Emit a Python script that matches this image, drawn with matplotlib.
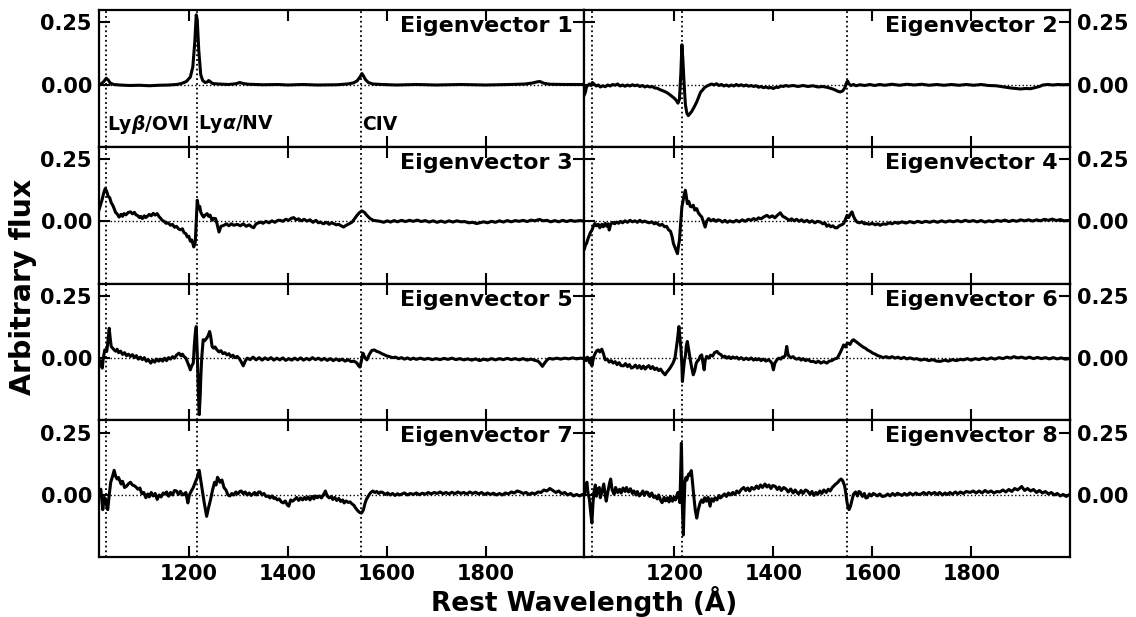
import matplotlib
matplotlib.use('Agg')
import matplotlib.pyplot as plt
from matplotlib.ticker import FormatStrFormatter

plt.rcParams['font.family'] = 'DejaVu Sans'
plt.rcParams['font.weight'] = 'bold'
plt.rcParams['mathtext.fontset'] = 'custom'
plt.rcParams['mathtext.it'] = 'DejaVu Sans:bold:italic'
plt.rcParams['mathtext.rm'] = 'DejaVu Sans:bold'

# emission lines marked in every panel (rest wavelength, Angstrom)
line_waves = [1033, 1216, 1549]
line_names = [r'Ly$\beta$/OVI', r'Ly$\alpha$/NV', 'CIV']

# eigenvector spectra, (wavelength, flux) pairs
spec1 = [(1018, 0.0), (1023, 0.003), (1028, 0.012), (1033, 0.025), (1037, 0.018), (1041, 0.006),
         (1048, 0.0), (1060, -0.002), (1080, -0.004), (1100, -0.003), (1120, -0.005), (1140, -0.003),
         (1160, -0.002), (1175, 0.0), (1185, 0.004), (1195, 0.012), (1203, 0.03), (1208, 0.07),
         (1212, 0.17), (1215, 0.28), (1217, 0.26), (1220, 0.14), (1224, 0.04), (1228, 0.016),
         (1233, 0.008), (1237, 0.01), (1240, 0.016), (1243, 0.012), (1248, 0.004), (1260, 0.002),
         (1280, 0.0), (1295, 0.003), (1303, 0.008), (1310, 0.004), (1320, 0.001), (1350, -0.001),
         (1380, 0.0), (1400, -0.002), (1430, 0.0), (1460, -0.002), (1500, -0.001), (1520, 0.002),
         (1532, 0.006), (1540, 0.014), (1546, 0.03), (1550, 0.044), (1553, 0.035), (1557, 0.02),
         (1563, 0.008), (1572, 0.002), (1590, 0.0), (1620, -0.002), (1660, 0.0), (1700, -0.002),
         (1750, 0.0), (1800, -0.002), (1850, 0.0), (1880, 0.002), (1895, 0.006), (1905, 0.011),
         (1910, 0.012), (1918, 0.005), (1930, 0.001), (1960, 0.0), (2000, 0.0)]

spec2 = [(1018, -0.04), (1020, -0.03), (1022, -0.01), (1025, -0.003), (1028, 0.002), (1031, -0.004),
         (1034, 0.008), (1038, 0.0), (1042, -0.006), (1046, -0.002), (1050, -0.01), (1055, -0.005),
         (1060, -0.009), (1065, -0.002), (1070, -0.006), (1075, 0.0), (1080, -0.003), (1085, 0.002),
         (1090, -0.006), (1095, -0.002), (1100, -0.007), (1105, -0.002), (1110, -0.006), (1115, -0.001),
         (1120, -0.005), (1125, -0.002), (1130, -0.008), (1135, -0.004), (1140, -0.01), (1145, -0.006),
         (1150, -0.01), (1155, -0.008), (1160, -0.014), (1165, -0.015), (1170, -0.02), (1175, -0.024),
         (1180, -0.028), (1185, -0.033), (1190, -0.04), (1195, -0.048), (1200, -0.056), (1204, -0.065),
         (1207, -0.075), (1210, -0.06), (1213, 0.05), (1215, 0.16), (1217, 0.1), (1219, 0.02),
         (1222, -0.08), (1225, -0.115), (1228, -0.125), (1231, -0.118), (1235, -0.108), (1240, -0.09),
         (1245, -0.07), (1249, -0.05), (1253, -0.03), (1257, -0.022), (1261, -0.012), (1266, -0.006),
         (1270, -0.002), (1275, 0.002), (1280, -0.002), (1285, 0.003), (1290, -0.004), (1295, 0.0),
         (1300, -0.006), (1305, -0.002), (1310, -0.007), (1315, -0.002), (1320, -0.006), (1325, 0.0),
         (1330, -0.005), (1335, -0.001), (1340, -0.006), (1345, -0.002), (1350, -0.007), (1355, -0.004),
         (1360, -0.008), (1365, -0.005), (1370, -0.011), (1375, -0.008), (1380, -0.013), (1385, -0.01),
         (1390, -0.014), (1395, -0.012), (1400, -0.016), (1405, -0.011), (1410, -0.012), (1415, -0.006),
         (1420, -0.008), (1425, -0.004), (1430, -0.007), (1440, -0.004), (1450, -0.008), (1460, -0.004),
         (1470, -0.008), (1480, -0.005), (1490, -0.01), (1500, -0.008), (1510, -0.012), (1515, -0.015),
         (1520, -0.018), (1525, -0.022), (1530, -0.027), (1535, -0.03), (1540, -0.026), (1544, -0.015),
         (1548, 0.008), (1550, 0.014), (1553, 0.002), (1557, -0.004), (1562, 0.0), (1567, -0.005),
         (1575, -0.001), (1585, -0.004), (1595, 0.0), (1605, -0.004), (1615, 0.0), (1625, -0.003),
         (1640, 0.001), (1655, -0.003), (1670, 0.001), (1685, -0.002), (1700, 0.001), (1715, -0.003),
         (1730, 0.0), (1745, -0.003), (1760, 0.0), (1775, -0.003), (1790, 0.0), (1805, -0.003),
         (1820, 0.0), (1835, -0.004), (1850, -0.005), (1860, -0.008), (1870, -0.011), (1880, -0.014),
         (1890, -0.016), (1900, -0.018), (1910, -0.016), (1920, -0.017), (1930, -0.012), (1938, -0.008),
         (1945, -0.002), (1955, 0.0), (1965, -0.002), (1975, 0.0), (1985, -0.001), (2000, 0.0)]

spec3 = [(1019, 0.05), (1022, 0.07), (1025, 0.09), (1028, 0.115), (1031, 0.132), (1034, 0.12),
         (1037, 0.1), (1040, 0.095), (1043, 0.075), (1046, 0.065), (1049, 0.051), (1052, 0.035),
         (1055, 0.03), (1059, 0.017), (1063, 0.028), (1066, 0.02), (1069, 0.031), (1073, 0.026),
         (1077, 0.035), (1082, 0.038), (1086, 0.03), (1090, 0.036), (1093, 0.026), (1096, 0.024),
         (1100, 0.015), (1103, 0.02), (1106, 0.011), (1110, 0.022), (1113, 0.015), (1116, 0.02),
         (1120, 0.028), (1124, 0.022), (1128, 0.032), (1132, 0.025), (1136, 0.031), (1140, 0.018),
         (1143, 0.012), (1146, 0.004), (1150, 0.0), (1154, -0.008), (1158, -0.006), (1163, -0.016),
         (1167, -0.012), (1171, -0.024), (1175, -0.02), (1179, -0.03), (1183, -0.034), (1187, -0.03),
         (1190, -0.045), (1194, -0.05), (1197, -0.063), (1200, -0.06), (1203, -0.08), (1206, -0.075),
         (1210, -0.103), (1213, -0.083), (1215, 0.0), (1217, 0.085), (1220, 0.05), (1222, 0.06),
         (1224, 0.038), (1227, 0.025), (1230, 0.017), (1233, 0.025), (1237, 0.031), (1240, 0.02),
         (1243, 0.025), (1247, 0.004), (1250, 0.012), (1254, 0.011), (1257, -0.01), (1261, -0.043),
         (1265, -0.02), (1271, -0.016), (1276, -0.01), (1281, -0.018), (1286, -0.01), (1291, -0.016),
         (1298, -0.012), (1304, -0.018), (1310, -0.01), (1316, -0.02), (1322, -0.014), (1327, -0.022),
         (1331, -0.026), (1336, -0.01), (1341, -0.006), (1345, -0.003), (1350, -0.008), (1356, 0.0),
         (1362, -0.006), (1368, 0.002), (1374, -0.004), (1380, 0.004), (1385, 0.004), (1390, 0.0),
         (1396, 0.008), (1402, 0.004), (1407, 0.012), (1412, 0.015), (1417, 0.006), (1422, 0.01),
         (1427, 0.002), (1433, 0.008), (1439, 0.001), (1445, 0.006), (1451, -0.004), (1457, 0.004),
         (1462, -0.006), (1466, -0.003), (1472, -0.01), (1478, -0.004), (1484, -0.012), (1488, -0.006),
         (1493, -0.009), (1498, -0.014), (1503, -0.012), (1508, -0.018), (1513, -0.023), (1518, -0.016),
         (1522, -0.012), (1526, -0.008), (1530, -0.003), (1535, 0.01), (1540, 0.024), (1545, 0.035),
         (1550, 0.042), (1555, 0.036), (1560, 0.024), (1566, 0.012), (1573, 0.004), (1580, 0.002),
         (1587, 0.0), (1594, -0.004), (1601, 0.002), (1608, -0.003), (1615, 0.003), (1622, -0.002),
         (1630, 0.004), (1638, -0.001), (1646, 0.004), (1654, 0.0), (1662, 0.005), (1670, -0.001),
         (1678, 0.003), (1686, -0.003), (1694, 0.002), (1702, -0.004), (1710, 0.001), (1718, -0.004),
         (1726, 0.002), (1734, -0.003), (1742, 0.002), (1750, -0.002), (1758, -0.001), (1766, -0.006),
         (1774, -0.004), (1782, -0.009), (1788, -0.006), (1796, -0.002), (1804, -0.006), (1812, 0.0),
         (1820, -0.004), (1828, 0.002), (1836, -0.003), (1844, 0.003), (1852, -0.002), (1860, 0.003),
         (1868, 0.0), (1876, 0.004), (1884, -0.001), (1892, 0.005), (1900, 0.002), (1909, 0.008),
         (1916, 0.002), (1924, 0.004), (1932, -0.002), (1940, 0.003), (1948, -0.002), (1956, 0.004),
         (1964, -0.001), (1972, 0.004), (1980, 0.0), (1990, 0.003), (2000, 0.001)]

spec4 = [(1018, -0.11), (1020, -0.095), (1022, -0.09), (1024, -0.077), (1027, -0.06), (1030, -0.045),
         (1033, -0.036), (1036, -0.02), (1039, -0.009), (1042, -0.018), (1046, -0.012), (1049, -0.026),
         (1053, -0.012), (1056, -0.022), (1060, -0.008), (1063, -0.02), (1066, -0.01), (1068, -0.035),
         (1071, -0.012), (1075, -0.004), (1079, -0.01), (1083, -0.003), (1087, -0.008), (1091, 0.0),
         (1095, -0.006), (1100, 0.002), (1105, -0.004), (1110, 0.004), (1115, -0.002), (1120, 0.002),
         (1125, -0.004), (1130, 0.004), (1135, -0.003), (1140, 0.001), (1144, -0.003), (1149, -0.006),
         (1154, -0.002), (1159, -0.01), (1164, -0.006), (1168, -0.014), (1171, -0.016), (1175, -0.012),
         (1180, -0.022), (1184, -0.02), (1188, -0.034), (1192, -0.04), (1195, -0.06), (1198, -0.09),
         (1202, -0.11), (1204, -0.12), (1206, -0.13), (1208, -0.1), (1210, -0.077), (1212, -0.02),
         (1215, 0.058), (1218, 0.09), (1220, 0.11), (1222, 0.125), (1224, 0.1), (1226, 0.071),
         (1229, 0.08), (1232, 0.06), (1235, 0.058), (1238, 0.065), (1241, 0.045), (1245, 0.051),
         (1248, 0.035), (1252, 0.024), (1255, 0.018), (1258, 0.0), (1262, -0.023), (1265, 0.0),
         (1269, 0.011), (1274, 0.002), (1279, 0.008), (1284, 0.0), (1288, 0.006), (1292, 0.004),
         (1297, -0.003), (1302, 0.004), (1307, -0.004), (1312, 0.002), (1319, -0.003), (1325, 0.004),
         (1331, -0.002), (1337, 0.006), (1343, 0.0), (1349, 0.008), (1355, 0.004), (1360, 0.011),
         (1365, 0.006), (1370, 0.014), (1375, 0.01), (1381, 0.018), (1387, 0.024), (1392, 0.016),
         (1398, 0.022), (1403, 0.014), (1409, 0.026), (1414, 0.034), (1419, 0.02), (1423, 0.016),
         (1427, 0.011), (1432, 0.004), (1437, 0.01), (1442, 0.002), (1447, 0.008), (1452, 0.0),
         (1457, 0.006), (1462, -0.002), (1468, 0.004), (1473, -0.004), (1478, 0.002), (1484, -0.006),
         (1489, 0.0), (1495, -0.003), (1500, -0.01), (1504, -0.006), (1508, -0.02), (1512, -0.014),
         (1516, -0.022), (1520, -0.018), (1525, -0.026), (1529, -0.026), (1533, -0.018), (1538, -0.014),
         (1542, -0.009), (1546, 0.01), (1549, 0.024), (1552, 0.015), (1556, 0.03), (1559, 0.038),
         (1562, 0.02), (1565, 0.008), (1569, -0.003), (1574, -0.006), (1579, -0.002), (1584, -0.01),
         (1589, -0.009), (1594, -0.012), (1600, -0.008), (1606, -0.014), (1611, -0.01), (1616, -0.016),
         (1622, -0.01), (1628, -0.012), (1634, -0.006), (1640, -0.01), (1646, -0.004), (1652, -0.008),
         (1660, -0.002), (1668, -0.007), (1676, -0.001), (1684, -0.006), (1692, 0.0), (1700, -0.005),
         (1708, 0.0), (1716, -0.004), (1724, 0.001), (1732, -0.004), (1740, 0.002), (1748, -0.003),
         (1756, 0.002), (1764, -0.002), (1772, 0.003), (1780, -0.002), (1788, 0.004), (1796, -0.001),
         (1804, 0.003), (1812, -0.002), (1820, 0.003), (1828, -0.003), (1836, 0.002), (1844, -0.002),
         (1852, 0.004), (1860, 0.0), (1868, 0.005), (1876, -0.001), (1884, 0.004), (1892, 0.0),
         (1900, 0.006), (1908, 0.002), (1916, 0.006), (1924, 0.001), (1932, 0.006), (1940, 0.002),
         (1948, 0.008), (1956, 0.004), (1964, 0.009), (1972, 0.003), (1980, 0.007), (1988, 0.002),
         (2000, 0.004)]

spec5 = [(1018, -0.02), (1021, -0.01), (1023, -0.03), (1025, -0.04), (1027, 0.0), (1030, 0.033),
         (1034, 0.027), (1036, 0.06), (1039, 0.12), (1041, 0.08), (1043, 0.047), (1046, 0.04),
         (1049, 0.033), (1052, 0.028), (1055, 0.036), (1058, 0.022), (1062, 0.028), (1066, 0.015),
         (1070, 0.022), (1074, 0.01), (1078, 0.016), (1082, 0.007), (1086, 0.014), (1090, 0.002),
         (1094, 0.01), (1098, -0.004), (1102, 0.004), (1106, -0.006), (1110, 0.002), (1114, -0.012),
         (1118, -0.006), (1123, -0.02), (1127, -0.008), (1131, -0.016), (1135, -0.004), (1139, -0.012),
         (1143, -0.004), (1147, -0.012), (1151, 0.0), (1155, -0.01), (1159, 0.002), (1163, -0.004),
         (1167, 0.006), (1171, 0.0), (1175, 0.012), (1180, 0.02), (1184, 0.01), (1187, 0.016),
         (1190, 0.007), (1194, 0.0), (1198, -0.02), (1201, -0.035), (1203, -0.047), (1206, -0.03),
         (1209, -0.02), (1211, 0.05), (1213, 0.1), (1215, 0.127), (1217, 0.02), (1219, -0.12),
         (1221, -0.227), (1223, -0.15), (1224, -0.087), (1226, 0.0), (1229, 0.074), (1232, 0.07),
         (1236, 0.08), (1239, 0.09), (1242, 0.107), (1244, 0.09), (1247, 0.047), (1250, 0.04),
         (1253, 0.045), (1257, 0.033), (1261, 0.025), (1265, 0.03), (1269, 0.018), (1273, 0.022),
         (1277, 0.013), (1281, 0.018), (1285, 0.006), (1289, 0.012), (1293, 0.002), (1298, 0.007),
         (1302, -0.002), (1306, -0.015), (1310, -0.031), (1314, -0.012), (1318, 0.0), (1324, -0.006),
         (1330, 0.004), (1336, -0.007), (1342, 0.002), (1348, -0.008), (1354, 0.001), (1360, -0.006),
         (1366, 0.002), (1372, -0.008), (1378, 0.0), (1384, -0.007), (1390, 0.001), (1396, -0.009),
         (1402, -0.002), (1408, -0.008), (1414, 0.0), (1420, -0.007), (1426, 0.001), (1432, -0.008),
         (1438, -0.001), (1444, -0.007), (1450, 0.002), (1456, -0.006), (1462, 0.0), (1468, -0.008),
         (1474, -0.001), (1480, -0.009), (1486, -0.002), (1492, -0.01), (1498, -0.003), (1504, -0.01),
         (1510, -0.004), (1516, -0.012), (1522, -0.006), (1528, -0.014), (1534, -0.012), (1540, -0.02),
         (1543, -0.03), (1546, -0.036), (1549, -0.01), (1552, 0.02), (1556, 0.002), (1560, -0.007),
         (1565, 0.015), (1570, 0.031), (1575, 0.033), (1580, 0.027), (1585, 0.024), (1590, 0.018),
         (1595, 0.014), (1600, 0.009), (1606, 0.006), (1612, 0.002), (1618, 0.004), (1624, -0.002),
         (1630, 0.002), (1636, -0.004), (1642, 0.001), (1648, -0.005), (1654, 0.0), (1660, -0.005),
         (1668, 0.0), (1676, -0.005), (1684, -0.001), (1692, -0.006), (1700, -0.002), (1708, -0.006),
         (1716, -0.001), (1724, -0.005), (1732, 0.0), (1740, -0.006), (1748, -0.002), (1756, -0.007),
         (1764, -0.003), (1772, -0.008), (1780, -0.003), (1788, -0.01), (1796, -0.004), (1804, -0.008),
         (1812, -0.002), (1820, -0.007), (1828, -0.002), (1836, -0.006), (1844, -0.001), (1852, -0.006),
         (1860, -0.002), (1868, -0.007), (1876, -0.002), (1884, -0.008), (1892, -0.004), (1900, -0.009),
         (1906, -0.012), (1910, -0.02), (1915, -0.033), (1920, -0.018), (1925, -0.006), (1929, -0.001),
         (1936, -0.004), (1944, 0.0), (1952, -0.004), (1960, 0.0), (1968, -0.003), (1976, 0.001),
         (1984, -0.003), (1992, 0.0), (2000, -0.002)]

spec6 = [(1018, 0.0), (1021, -0.01), (1024, 0.004), (1026, -0.007), (1029, -0.02), (1031, 0.0),
         (1033, -0.031), (1035, -0.01), (1037, 0.007), (1040, 0.02), (1043, 0.03), (1046, 0.033),
         (1049, 0.025), (1053, 0.036), (1056, 0.02), (1060, -0.007), (1064, -0.004), (1068, -0.016),
         (1072, -0.01), (1076, -0.02), (1080, -0.014), (1084, -0.026), (1088, -0.018), (1092, -0.03),
         (1097, -0.031), (1101, -0.022), (1105, -0.034), (1109, -0.026), (1113, -0.04), (1117, -0.036),
         (1121, -0.028), (1125, -0.04), (1129, -0.03), (1133, -0.042), (1137, -0.032), (1141, -0.044),
         (1144, -0.036), (1148, -0.03), (1152, -0.042), (1156, -0.034), (1160, -0.046), (1164, -0.04),
         (1168, -0.05), (1172, -0.044), (1176, -0.056), (1181, -0.067), (1185, -0.055), (1188, -0.048),
         (1191, -0.04), (1194, -0.03), (1197, -0.02), (1201, 0.0), (1203, 0.03), (1206, 0.074),
         (1208, 0.11), (1209, 0.127), (1211, 0.08), (1213, 0.04), (1215, -0.03), (1216, -0.094),
         (1218, -0.05), (1220, -0.01), (1222, 0.007), (1224, 0.05), (1226, 0.067), (1229, 0.03),
         (1232, -0.007), (1235, -0.04), (1238, -0.067), (1241, -0.05), (1244, -0.02), (1247, -0.01),
         (1249, -0.007), (1252, 0.008), (1255, 0.013), (1257, -0.01), (1260, -0.047), (1262, -0.01),
         (1265, 0.007), (1269, 0.0), (1273, 0.012), (1277, 0.008), (1281, 0.022), (1286, 0.027),
         (1290, 0.018), (1294, 0.014), (1298, 0.004), (1302, 0.008), (1306, 0.0), (1310, 0.006),
         (1314, -0.002), (1318, 0.005), (1322, 0.0), (1326, 0.004), (1330, -0.004), (1335, 0.002),
         (1340, -0.006), (1345, 0.0), (1350, -0.006), (1355, 0.001), (1360, -0.008), (1364, -0.002),
         (1367, -0.007), (1371, -0.002), (1375, -0.01), (1380, -0.004), (1385, -0.012), (1390, -0.006),
         (1394, -0.013), (1397, -0.02), (1400, -0.047), (1403, -0.02), (1407, -0.007), (1411, 0.0),
         (1415, -0.004), (1418, 0.004), (1421, 0.004), (1424, 0.01), (1427, 0.047), (1429, 0.02),
         (1431, 0.009), (1435, 0.002), (1440, 0.006), (1444, -0.002), (1448, -0.004), (1452, 0.0),
         (1456, -0.008), (1460, -0.002), (1465, -0.01), (1470, -0.006), (1476, -0.014), (1481, -0.013),
         (1486, -0.018), (1491, -0.012), (1496, -0.02), (1502, -0.014), (1508, -0.02), (1513, -0.012),
         (1518, -0.01), (1523, -0.004), (1529, 0.0), (1533, 0.014), (1537, 0.03), (1542, 0.053),
         (1546, 0.045), (1549, 0.06), (1552, 0.06), (1555, 0.055), (1559, 0.07), (1562, 0.074),
         (1566, 0.068), (1570, 0.062), (1576, 0.053), (1581, 0.045), (1586, 0.04), (1591, 0.032),
         (1596, 0.027), (1601, 0.02), (1606, 0.016), (1611, 0.01), (1616, 0.007), (1622, 0.002),
         (1628, 0.006), (1634, 0.001), (1640, 0.006), (1646, 0.0), (1652, 0.004), (1658, -0.002),
         (1664, 0.003), (1670, -0.003), (1676, 0.001), (1684, -0.004), (1690, -0.002), (1698, -0.008),
         (1706, -0.004), (1714, -0.01), (1722, -0.006), (1730, -0.012), (1738, -0.013), (1746, -0.008),
         (1754, -0.012), (1762, -0.006), (1770, -0.01), (1778, -0.005), (1785, -0.007), (1792, -0.002),
         (1800, -0.008), (1808, -0.002), (1816, -0.006), (1824, 0.0), (1832, -0.005), (1840, 0.001),
         (1848, -0.004), (1856, 0.002), (1864, -0.002), (1872, 0.004), (1880, 0.0), (1886, 0.006),
         (1894, 0.001), (1902, 0.004), (1910, -0.001), (1918, 0.004), (1926, -0.002), (1934, 0.003),
         (1942, -0.002), (1950, 0.002), (1958, -0.003), (1966, 0.002), (1974, -0.003), (1982, 0.001),
         (1990, -0.004), (2000, -0.002)]

spec7 = [(1018, 0.01), (1022, 0.023), (1026, -0.059), (1029, -0.01), (1032, -0.018), (1034, -0.045),
         (1036, -0.059), (1039, 0.0), (1042, 0.051), (1045, 0.07), (1049, 0.099), (1052, 0.075),
         (1055, 0.064), (1058, 0.07), (1063, 0.044), (1066, 0.055), (1070, 0.03), (1074, 0.035),
         (1078, 0.045), (1082, 0.051), (1086, 0.04), (1090, 0.037), (1094, 0.03), (1097, 0.023),
         (1101, 0.028), (1105, 0.005), (1109, 0.01), (1113, -0.011), (1117, 0.004), (1120, -0.008),
         (1124, 0.01), (1128, -0.004), (1132, 0.006), (1136, -0.018), (1140, 0.0), (1144, -0.008),
         (1148, 0.008), (1151, 0.003), (1155, 0.012), (1159, -0.005), (1163, 0.01), (1167, 0.0),
         (1171, 0.018), (1175, 0.016), (1179, 0.002), (1183, 0.015), (1187, 0.0), (1190, 0.003),
         (1194, 0.01), (1198, -0.032), (1201, 0.0), (1205, 0.016), (1209, 0.03), (1213, 0.051),
         (1217, 0.07), (1221, 0.099), (1224, 0.06), (1227, 0.023), (1231, -0.03), (1236, -0.086),
         (1240, -0.05), (1244, -0.018), (1248, 0.02), (1252, 0.051), (1255, 0.04), (1258, 0.071),
         (1261, 0.06), (1263, 0.051), (1267, 0.06), (1271, 0.03), (1275, 0.02), (1279, 0.0),
         (1283, -0.004), (1287, 0.006), (1291, 0.0), (1295, 0.012), (1299, 0.004), (1303, 0.014),
         (1306, 0.016), (1310, 0.005), (1314, 0.012), (1318, 0.0), (1322, 0.008), (1326, -0.002),
         (1329, 0.003), (1333, 0.01), (1337, 0.0), (1341, 0.012), (1344, 0.012), (1348, 0.0),
         (1352, 0.006), (1356, -0.006), (1360, -0.004), (1364, -0.012), (1368, -0.004), (1372, -0.014),
         (1375, -0.011), (1379, -0.02), (1383, -0.016), (1387, -0.028), (1391, -0.032), (1395, -0.024),
         (1399, -0.04), (1402, -0.045), (1406, -0.02), (1410, -0.025), (1414, -0.018), (1418, -0.01),
         (1422, -0.022), (1426, -0.012), (1430, -0.02), (1434, -0.01), (1437, -0.018), (1441, -0.008),
         (1445, -0.02), (1449, -0.006), (1453, -0.016), (1456, -0.004), (1460, -0.011), (1464, -0.004),
         (1468, -0.012), (1472, 0.0), (1476, 0.016), (1480, -0.005), (1484, -0.012), (1488, -0.006),
         (1491, -0.018), (1495, -0.01), (1499, -0.022), (1503, -0.014), (1507, -0.026), (1511, -0.02),
         (1514, -0.032), (1518, -0.024), (1522, -0.03), (1526, -0.028), (1530, -0.036), (1534, -0.042),
         (1537, -0.052), (1541, -0.062), (1545, -0.07), (1549, -0.073), (1553, -0.06), (1556, -0.035),
         (1559, -0.018), (1563, -0.004), (1567, 0.008), (1572, 0.016), (1576, 0.01), (1580, 0.014),
         (1584, 0.006), (1588, 0.012), (1592, 0.01), (1597, 0.002), (1602, 0.008), (1607, 0.0),
         (1612, 0.006), (1617, -0.002), (1622, 0.005), (1626, 0.0), (1630, 0.003), (1636, 0.008),
         (1642, 0.0), (1648, 0.006), (1654, 0.002), (1660, 0.008), (1666, 0.001), (1672, 0.007),
         (1678, 0.003), (1684, 0.01), (1690, 0.004), (1696, 0.01), (1702, 0.006), (1708, 0.012),
         (1714, 0.005), (1720, 0.01), (1726, 0.004), (1732, 0.011), (1738, 0.005), (1744, 0.012),
         (1750, 0.006), (1756, 0.01), (1762, 0.004), (1768, 0.012), (1774, 0.006), (1780, 0.011),
         (1786, 0.004), (1792, 0.01), (1798, 0.002), (1804, 0.008), (1810, 0.002), (1816, 0.007),
         (1822, 0.0), (1828, 0.006), (1834, 0.0), (1840, 0.008), (1846, 0.004), (1852, 0.012),
         (1858, 0.008), (1864, 0.016), (1870, 0.012), (1876, 0.006), (1882, 0.01), (1888, 0.002),
         (1894, 0.008), (1900, 0.004), (1906, 0.012), (1912, 0.01), (1918, 0.02), (1924, 0.016),
         (1930, 0.026), (1936, 0.018), (1942, 0.01), (1948, 0.016), (1954, 0.005), (1960, 0.01),
         (1966, 0.0), (1972, 0.006), (1978, -0.004), (1984, 0.002), (1990, -0.004), (1996, 0.002),
         (2000, 0.0)]

spec8 = [(1018, 0.003), (1020, 0.04), (1023, 0.051), (1025, 0.01), (1028, -0.018), (1030, -0.06),
         (1033, -0.113), (1035, -0.04), (1037, 0.01), (1040, 0.04), (1042, -0.005), (1045, 0.023),
         (1048, 0.03), (1050, -0.011), (1053, 0.01), (1057, 0.044), (1060, 0.0), (1062, -0.025),
         (1066, 0.02), (1069, 0.05), (1071, 0.064), (1074, 0.02), (1078, 0.003), (1081, 0.03),
         (1085, 0.01), (1089, 0.023), (1092, 0.008), (1096, 0.028), (1100, 0.014), (1103, 0.03),
         (1107, 0.012), (1111, 0.025), (1115, 0.006), (1118, 0.016), (1122, 0.0), (1125, 0.014),
         (1129, -0.004), (1132, 0.003), (1136, 0.016), (1139, -0.002), (1143, 0.012), (1146, 0.01),
         (1150, -0.006), (1154, 0.008), (1158, -0.01), (1161, -0.004), (1165, -0.016), (1168, 0.0),
         (1172, -0.022), (1175, -0.031), (1179, -0.01), (1182, -0.024), (1186, -0.011), (1189, -0.028),
         (1192, -0.006), (1196, -0.025), (1199, -0.01), (1202, -0.02), (1205, 0.0), (1207, 0.01),
         (1209, -0.01), (1211, -0.031), (1212, 0.05), (1214, 0.208), (1215, 0.1), (1216, -0.05),
         (1218, -0.161), (1219, -0.08), (1221, 0.051), (1223, 0.07), (1225, 0.06), (1227, 0.075),
         (1229, 0.085), (1231, 0.08), (1234, 0.098), (1236, 0.06), (1239, -0.004), (1242, -0.06),
         (1245, -0.093), (1248, -0.06), (1252, -0.031), (1255, -0.02), (1258, -0.03), (1261, -0.011),
         (1264, -0.025), (1268, -0.01), (1272, -0.045), (1275, -0.015), (1279, -0.025), (1282, -0.011),
         (1286, -0.02), (1290, -0.002), (1293, -0.012), (1297, -0.004), (1301, 0.004), (1305, -0.006),
         (1309, 0.008), (1313, 0.0), (1318, 0.01), (1322, 0.002), (1326, 0.016), (1330, 0.008),
         (1335, 0.022), (1340, 0.03), (1344, 0.018), (1348, 0.028), (1352, 0.016), (1356, 0.03),
         (1361, 0.023), (1366, 0.036), (1370, 0.026), (1374, 0.04), (1378, 0.03), (1383, 0.044),
         (1387, 0.032), (1391, 0.04), (1395, 0.026), (1399, 0.038), (1404, 0.034), (1408, 0.022),
         (1412, 0.032), (1416, 0.018), (1421, 0.03), (1426, 0.023), (1430, 0.012), (1435, 0.024),
         (1440, 0.008), (1444, 0.02), (1447, 0.012), (1451, 0.004), (1456, 0.018), (1460, 0.006),
         (1465, 0.02), (1469, 0.016), (1474, 0.002), (1478, 0.014), (1482, -0.002), (1486, 0.01),
         (1490, 0.003), (1494, 0.016), (1498, 0.006), (1502, 0.02), (1507, 0.01), (1511, 0.023),
         (1515, 0.016), (1519, 0.03), (1522, 0.036), (1526, 0.044), (1530, 0.05), (1534, 0.06),
         (1537, 0.064), (1540, 0.058), (1544, 0.037), (1547, 0.0), (1549, -0.031), (1551, -0.05),
         (1553, -0.059), (1556, -0.045), (1559, -0.02), (1562, 0.003), (1566, 0.012), (1570, -0.004),
         (1573, 0.014), (1576, 0.01), (1580, -0.006), (1584, 0.006), (1587, -0.012), (1590, -0.011),
         (1594, 0.004), (1598, -0.004), (1602, 0.006), (1605, 0.003), (1610, -0.004), (1615, 0.004),
         (1620, -0.006), (1626, -0.004), (1631, 0.004), (1636, -0.004), (1641, 0.006), (1646, -0.002),
         (1651, 0.007), (1655, 0.003), (1660, -0.002), (1665, 0.006), (1670, -0.001), (1676, 0.008),
         (1682, 0.0), (1688, 0.008), (1693, 0.002), (1698, 0.003), (1704, 0.01), (1709, 0.002),
         (1714, 0.01), (1720, 0.004), (1726, 0.01), (1731, 0.002), (1736, 0.01), (1742, 0.0),
         (1747, 0.008), (1752, 0.002), (1757, 0.01), (1762, 0.003), (1768, 0.012), (1773, 0.004),
         (1778, 0.012), (1784, 0.006), (1790, 0.014), (1798, 0.01), (1804, 0.016), (1810, 0.008),
         (1816, 0.016), (1822, 0.008), (1828, 0.018), (1834, 0.01), (1840, 0.016), (1846, 0.008),
         (1852, 0.014), (1858, 0.012), (1864, 0.02), (1870, 0.012), (1876, 0.022), (1882, 0.014),
         (1888, 0.026), (1894, 0.02), (1902, 0.034), (1908, 0.018), (1914, 0.026), (1920, 0.016),
         (1926, 0.022), (1932, 0.01), (1938, 0.018), (1944, 0.008), (1950, 0.014), (1956, 0.004),
         (1962, 0.01), (1968, 0.0), (1974, 0.006), (1980, -0.004), (1986, 0.002), (1992, -0.006),
         (2000, 0.003)]

spectra = [spec1, spec2, spec3, spec4, spec5, spec6, spec7, spec8]

fig, axes = plt.subplots(4, 2, sharex=True, sharey=True, figsize=(11.36, 6.17), dpi=100)
fig.subplots_adjust(left=0.087, right=0.942, top=0.984, bottom=0.097, wspace=0, hspace=0)

for i, ax in enumerate(axes.flat):
    wl = [p[0] for p in spectra[i]]
    fl = [p[1] for p in spectra[i]]
    ax.plot(wl, fl, color='k', lw=2.2)
    for w in line_waves:
        ax.axvline(w, color='k', ls=':', lw=1.3)
    ax.axhline(0, color='k', ls=':', lw=1)
    ax.text(0.975, 0.955, 'Eigenvector %d' % (i + 1), transform=ax.transAxes,
            ha='right', va='top', fontsize=16, fontweight='bold')
    ax.set_xlim(1018, 2000)
    ax.set_ylim(-0.25, 0.30)
    ax.set_xticks([1200, 1400, 1600, 1800])
    ax.set_yticks([0.0, 0.25])
    ax.yaxis.set_major_formatter(FormatStrFormatter('%.2f'))
    right = (i % 2 == 1)
    ax.tick_params(direction='in', length=8, width=1.5, top=True, bottom=True,
                   left=True, right=True, labelsize=15, pad=5,
                   labelleft=not right, labelright=right)
    for s in ax.spines.values():
        s.set_linewidth(1.6)

for w, name in zip(line_waves, line_names):
    axes[0, 0].text(w + 2, -0.16, name, fontsize=13.5, fontweight='bold',
                    ha='left', va='center')

fig.text(0.02, 0.535, 'Arbitrary flux', rotation=90, ha='center', va='center',
         fontsize=20.5, fontweight='bold')
fig.text(0.514, 0.025, u'Rest Wavelength (\u00c5)', ha='center', va='center',
         fontsize=19, fontweight='bold')

fig.savefig('out.png', dpi=100)
